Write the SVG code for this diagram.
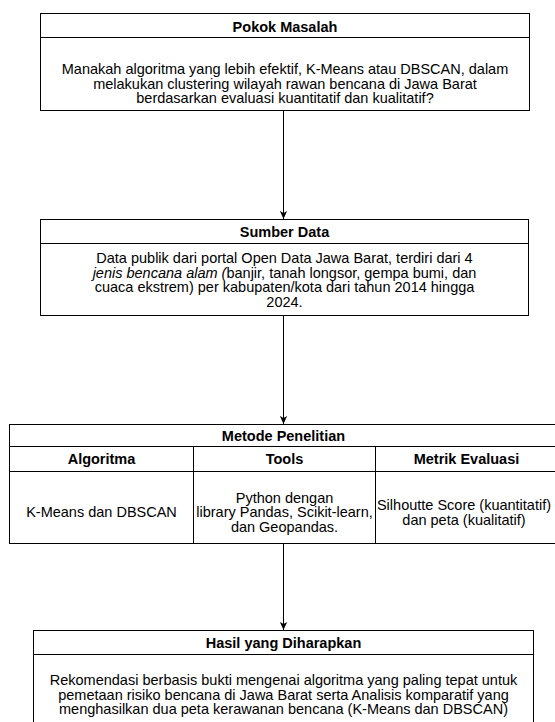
<svg xmlns="http://www.w3.org/2000/svg" width="555" height="722" viewBox="0 0 555 722">
<defs>
<style>
.box{fill:#ffffff;stroke:#000000;stroke-width:1}
.ln{stroke:#000000;stroke-width:1;fill:none}
.t{font-family:"Liberation Sans",Arial,sans-serif;font-size:14.5px;fill:#000000;text-anchor:middle}
.b{font-weight:bold}
.i{font-style:italic}
</style>
<marker id="arr" viewBox="0 0 10 10" refX="10" refY="5" markerWidth="8" markerHeight="8" markerUnits="userSpaceOnUse" orient="auto">
<path d="M0,0.5 L10,5 L0,9.5 L2.5,5 Z" fill="#000000"/>
</marker>
</defs>
<rect width="555" height="722" fill="#ffffff"/>
<g id="connectors">
<line class="ln" x1="283.5" y1="110.5" x2="283.5" y2="219" marker-end="url(#arr)"/>
<line class="ln" x1="283.5" y1="315.5" x2="283.5" y2="424" marker-end="url(#arr)"/>
<line class="ln" x1="283.5" y1="543.5" x2="283.5" y2="630" marker-end="url(#arr)"/>
</g>
<g id="pokok-masalah">
<rect class="box" x="40.5" y="13.5" width="489" height="97"/>
<line class="ln" x1="40.5" y1="37.5" x2="529.5" y2="37.5"/>
<text class="t b" x="285" y="32">Pokok Masalah</text>
<text class="t" x="285" y="74">Manakah algoritma yang lebih efektif, K-Means atau DBSCAN, dalam</text>
<text class="t" x="285" y="88.5">melakukan clustering wilayah rawan bencana di Jawa Barat</text>
<text class="t" x="285" y="103">berdasarkan evaluasi kuantitatif dan kualitatif?</text>
</g>
<g id="sumber-data">
<rect class="box" x="40.5" y="219.5" width="488" height="96"/>
<line class="ln" x1="40.5" y1="243.5" x2="528.5" y2="243.5"/>
<text class="t b" x="284.5" y="237">Sumber Data</text>
<text class="t" x="284.5" y="263">Data publik dari portal Open Data Jawa Barat, terdiri dari 4</text>
<text class="t" x="284.5" y="277.5"><tspan class="i">jenis bencana alam (</tspan>banjir, tanah longsor, gempa bumi, dan</text>
<text class="t" x="284.5" y="292">cuaca ekstrem) per kabupaten/kota dari tahun 2014 hingga</text>
<text class="t" x="284.5" y="306.5">2024.</text>
</g>
<g id="metode-penelitian">
<rect class="box" x="9.5" y="424.5" width="548" height="119"/>
<line class="ln" x1="9.5" y1="446.5" x2="557.5" y2="446.5"/>
<line class="ln" x1="9.5" y1="471.5" x2="557.5" y2="471.5"/>
<line class="ln" x1="193.5" y1="446.5" x2="193.5" y2="543.5"/>
<line class="ln" x1="375.5" y1="446.5" x2="375.5" y2="543.5"/>
<text class="t b" x="283.5" y="440.5">Metode Penelitian</text>
<text class="t b" x="101.5" y="464">Algoritma</text>
<text class="t b" x="284.5" y="464">Tools</text>
<text class="t b" x="466.5" y="464">Metrik Evaluasi</text>
<text class="t" x="101.5" y="517">K-Means dan DBSCAN</text>
<text class="t" x="284.5" y="502.5">Python dengan</text>
<text class="t" x="284.5" y="517">library Pandas, Scikit-learn,</text>
<text class="t" x="284.5" y="531.5">dan Geopandas.</text>
<text class="t" x="464" y="510">Silhoutte Score (kuantitatif)</text>
<text class="t" x="464" y="524.5">dan peta (kualitatif)</text>
</g>
<g id="hasil-yang-diharapkan">
<rect class="box" x="33.5" y="630.5" width="500" height="94"/>
<line class="ln" x1="33.5" y1="654.5" x2="533.5" y2="654.5"/>
<text class="t b" x="283.5" y="647.5">Hasil yang Diharapkan</text>
<text class="t" x="283.5" y="685">Rekomendasi berbasis bukti mengenai algoritma yang paling tepat untuk</text>
<text class="t" x="283.5" y="699.5">pemetaan risiko bencana di Jawa Barat serta Analisis komparatif yang</text>
<text class="t" x="283.5" y="714">menghasilkan dua peta kerawanan bencana (K-Means dan DBSCAN)</text>
</g>
</svg>
